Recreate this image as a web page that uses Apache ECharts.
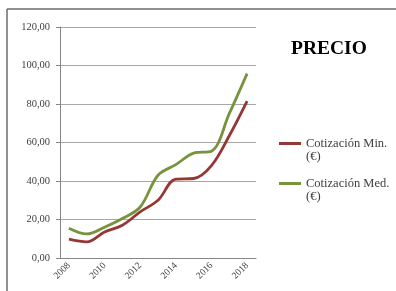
<!DOCTYPE html>
<html>
<head>
<meta charset="utf-8">
<script src="https://cdn.jsdelivr.net/npm/echarts@6/dist/echarts.min.js"></script>
<style>
  html, body { margin: 0; padding: 0; background: #fff; }
  #chart { width: 396px; height: 291px; }
</style>
</head>
<body>
<div id="chart"></div>
<script>
const years = ['2008', '2009', '2010', '2011', '2012', '2013', '2014', '2015', '2016', '2017', '2018'];
const cotizMin = [9.8, 8.4, 13.5, 17, 24, 30, 41, 41.3, 48, 63.5, 81.5];
const cotizMed = [15.5, 12.5, 16, 20.5, 26.5, 43, 48.5, 54.5, 55.5, 75, 95.8];
const yTicks = { min: 0, max: 120, interval: 20 };

const serif = '"Liberation Serif", "DejaVu Serif", serif';
const fmtNum = v => v.toFixed(2).replace('.', ',');

let chart = echarts.init(document.getElementById('chart'));
chart.setOption({
  animation: false,
  backgroundColor: '#fff',
  title: {
    text: 'PRECIO',
    left: 291,
    top: 39,
    padding: 0,
    textStyle: { fontFamily: serif, fontWeight: 'bold', fontSize: 19.5, color: '#000' }
  },
  legend: {
    orient: 'vertical',
    left: 279,
    top: 124,
    padding: 0,
    itemGap: 1,
    itemWidth: 22,
    itemHeight: 3,
    icon: 'rect',
    // blank first line so the marker sits on the first text line
    formatter: name => '\n' + name.replace(' (€)', '\n(€)'),
    textStyle: { fontFamily: serif, fontSize: 12.5, color: '#404040', lineHeight: 13 },
    data: ['Cotización Min. (€)', 'Cotización Med. (€)']
  },
  grid: { left: 60, top: 27, right: 140, bottom: 33 },
  xAxis: {
    type: 'category',
    data: years,
    boundaryGap: true,
    axisLine: { lineStyle: { color: '#868686', width: 1 } },
    axisTick: { interval: 0, length: 4, lineStyle: { color: '#868686' } },
    axisLabel: { interval: 1, rotate: 45, fontFamily: serif, fontSize: 9.5, color: '#404040', margin: 6 },
    splitLine: { show: false }
  },
  yAxis: {
    type: 'value',
    min: yTicks.min,
    max: yTicks.max,
    interval: yTicks.interval,
    axisLine: { show: true, lineStyle: { color: '#868686', width: 1 } },
    axisTick: { show: true, length: 4, lineStyle: { color: '#868686' } },
    axisLabel: { formatter: fmtNum, fontFamily: serif, fontSize: 10.5, color: '#404040', margin: 10 },
    splitLine: { lineStyle: { color: '#a6a6a6', width: 1 } }
  },
  series: [
    {
      name: 'Cotización Min. (€)',
      type: 'line',
      data: cotizMin,
      smooth: 0.35,
      showSymbol: false,
      lineStyle: { color: '#953735', width: 2.8 },
      itemStyle: { color: '#953735' }
    },
    {
      name: 'Cotización Med. (€)',
      type: 'line',
      data: cotizMed,
      smooth: 0.35,
      showSymbol: false,
      lineStyle: { color: '#77933c', width: 2.8 },
      itemStyle: { color: '#77933c' }
    }
  ],
  graphic: [
    { type: 'line', shape: { x1: 7, y1: 9, x2: 396, y2: 9 }, style: { stroke: '#6b6b6b', lineWidth: 1.5 } },
    { type: 'line', shape: { x1: 7, y1: 9, x2: 7, y2: 291 }, style: { stroke: '#6b6b6b', lineWidth: 1.5 } }
  ]
});
</script>
</body>
</html>
